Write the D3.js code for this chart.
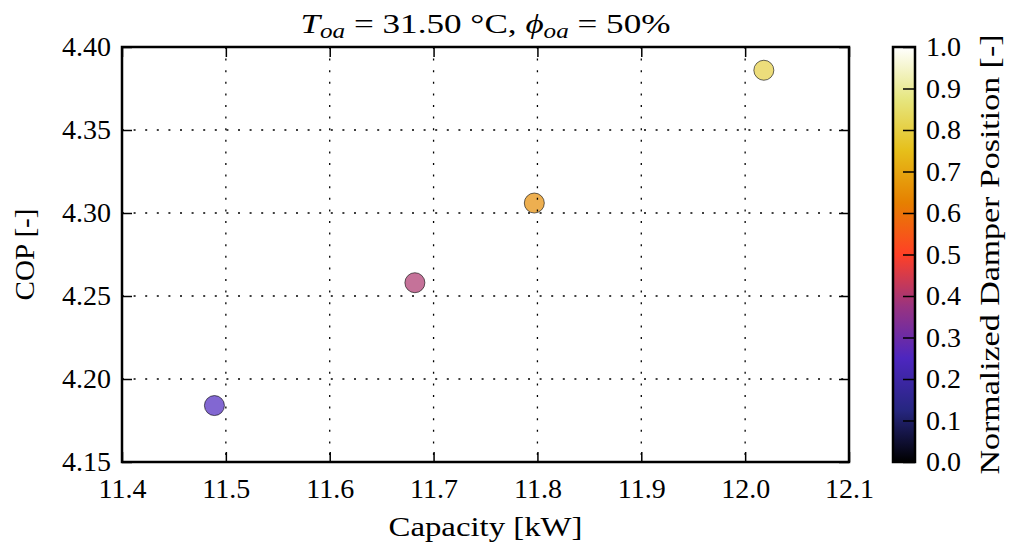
<!DOCTYPE html>
<html>
<head>
<meta charset="utf-8">
<script src="https://cdn.jsdelivr.net/npm/d3@7"></script>
<style>
  body { margin: 0; background: #fff; }
</style>
</head>
<body>
<script>
const width = 1014
const height = 550
const serif = "'Liberation Serif', 'DejaVu Serif', serif"

// data
const capacity = [11.489, 11.682, 11.797, 12.018]
const cop = [4.184, 4.258, 4.306, 4.386]
const damper = [0.25, 0.40, 0.65, 0.80]

const xTicks = [11.4, 11.5, 11.6, 11.7, 11.8, 11.9, 12.0, 12.1]
const yTicks = [4.15, 4.20, 4.25, 4.30, 4.35, 4.40]
const cTicks = [0.0, 0.1, 0.2, 0.3, 0.4, 0.5, 0.6, 0.7, 0.8, 0.9, 1.0]

// matplotlib CMRmap
const cmapStops = [0, 0.125, 0.25, 0.375, 0.5, 0.625, 0.75, 0.875, 1]
const cmapColors = [
  "rgb(0,0,0)", "rgb(38,38,128)", "rgb(77,38,191)", "rgb(153,51,128)",
  "rgb(255,64,38)", "rgb(230,128,0)", "rgb(230,191,26)", "rgb(230,230,128)", "rgb(255,255,255)"
]

const data = capacity.map((c, i) => ({capacity: c, cop: cop[i], damper: damper[i]}))

const x = d3.scaleLinear()
    .domain([11.4, 12.1])
    .range([122, 849]);
const y = d3.scaleLinear()
    .domain([4.15, 4.40])
    .range([462, 47]);
const color = d3.scaleLinear()
    .domain(cmapStops)
    .range(cmapColors)
    .interpolate(d3.interpolateRgb);

const cbX = 893, cbW = 22
const cy = d3.scaleLinear().domain([0, 1]).range([462, 47])

const svg = d3.select("body").append("svg")
    .attr("viewBox", [0, 0, width, height])
    .attr("width", width)
    .attr("height", height)
    .attr("font-family", serif);

// markers
svg.append("g")
  .selectAll("circle")
  .data(data)
  .join("circle")
    .attr("cx", d => x(d.capacity))
    .attr("cy", d => y(d.cop))
    .attr("r", 10)
    .attr("fill", d => color(d.damper))
    .attr("fill-opacity", 0.7)
    .attr("stroke", "#000")
    .attr("stroke-opacity", 0.6)
    .attr("stroke-width", 1);

// grid (on top, classic style)
const grid = svg.append("g")
    .attr("stroke", "#000")
    .attr("stroke-width", 1.3)
    .attr("stroke-dasharray", "2,9.6");
grid.selectAll(".gx")
  .data(xTicks.slice(1, -1))
  .join("line")
    .attr("x1", d => x(d)).attr("x2", d => x(d))
    .attr("y1", y(4.40)).attr("y2", y(4.15));
grid.selectAll(".gy")
  .data(yTicks.slice(1, -1))
  .join("line")
    .attr("y1", d => y(d)).attr("y2", d => y(d))
    .attr("x1", x(11.4)).attr("x2", x(12.1));

const fontSize = 28

const styleText = g => g.selectAll("text")
    .attr("font-size", fontSize)
    .attr("style", `font-family:${serif}`)

const xAxis = g => g
    .attr("transform", `translate(0,${y(4.15)})`)
    .call(d3.axisBottom(x).tickValues(xTicks).tickFormat(d3.format(".1f")).tickSize(-10).tickPadding(16))
    .call(g => g.select(".domain").remove())
    .call(g => g.selectAll(".tick line").attr("stroke-width", 1.5))
    .call(styleText);
const xAxisTop = g => g
    .attr("transform", `translate(0,${y(4.40)})`)
    .call(d3.axisTop(x).tickValues(xTicks).tickFormat("").tickSize(-10))
    .call(g => g.select(".domain").remove())
    .call(g => g.selectAll(".tick line").attr("stroke-width", 1.5));
const yAxis = g => g
    .attr("transform", `translate(${x(11.4)},0)`)
    .call(d3.axisLeft(y).tickValues(yTicks).tickFormat(d3.format(".2f")).tickSize(-10).tickPadding(11))
    .call(g => g.select(".domain").remove())
    .call(g => g.selectAll(".tick line").attr("stroke-width", 1.5))
    .call(styleText);
const yAxisRight = g => g
    .attr("transform", `translate(${x(12.1)},0)`)
    .call(d3.axisRight(y).tickValues(yTicks).tickFormat("").tickSize(-10))
    .call(g => g.select(".domain").remove())
    .call(g => g.selectAll(".tick line").attr("stroke-width", 1.5));

svg.append("g").call(xAxis);
svg.append("g").call(xAxisTop);
svg.append("g").call(yAxis);
svg.append("g").call(yAxisRight);

// frame
svg.append("rect")
    .attr("x", x(11.4)).attr("y", y(4.40))
    .attr("width", x(12.1) - x(11.4)).attr("height", y(4.15) - y(4.40))
    .attr("fill", "none").attr("stroke", "#000").attr("stroke-width", 2.5);

// axis labels
svg.append("text")
    .attr("x", (x(11.4) + x(12.1)) / 2).attr("y", 536)
    .attr("text-anchor", "middle").attr("font-size", fontSize)
    .attr("style", `font-family:${serif}`)
    .attr("textLength", 194).attr("lengthAdjust", "spacingAndGlyphs")
    .text("Capacity [kW]");
svg.append("text")
    .attr("transform", `translate(34,${(y(4.15) + y(4.40)) / 2}) rotate(-90)`)
    .attr("text-anchor", "middle").attr("font-size", fontSize)
    .attr("style", `font-family:${serif}`)
    .attr("textLength", 92).attr("lengthAdjust", "spacingAndGlyphs")
    .text("COP [-]");

// title
const title = svg.append("text")
    .attr("x", (x(11.4) + x(12.1)) / 2).attr("y", 33)
    .attr("text-anchor", "middle").attr("font-size", fontSize)
    .attr("style", `font-family:${serif}`)
    .attr("textLength", 370).attr("lengthAdjust", "spacingAndGlyphs");
title.append("tspan").attr("font-style", "italic").text("T");
title.append("tspan").attr("font-style", "italic").attr("font-size", 20).attr("dy", 5).text("oa");
title.append("tspan").attr("dy", -5).text(" = 31.50 °C, ");
title.append("tspan").attr("font-style", "italic").text("ϕ");
title.append("tspan").attr("font-style", "italic").attr("font-size", 20).attr("dy", 5).text("oa");
title.append("tspan").attr("dy", -5).text(" = 50%");

// colorbar
const defs = svg.append("defs");
const grad = defs.append("linearGradient")
    .attr("id", "cmap").attr("x1", 0).attr("y1", 1).attr("x2", 0).attr("y2", 0);
grad.selectAll("stop")
  .data(cmapStops)
  .join("stop")
    .attr("offset", d => d)
    .attr("stop-color", d => color(d));

svg.append("rect")
    .attr("x", cbX).attr("y", cy(1))
    .attr("width", cbW).attr("height", cy(0) - cy(1))
    .attr("fill", "url(#cmap)");

svg.append("g")
    .attr("transform", `translate(${cbX + cbW},0)`)
    .call(d3.axisRight(cy).tickValues(cTicks).tickFormat(d3.format(".1f")).tickSize(-12).tickPadding(11))
    .call(g => g.select(".domain").remove())
    .call(g => g.selectAll(".tick line").attr("stroke-width", 1.5))
    .call(styleText);

svg.append("rect")
    .attr("x", cbX).attr("y", cy(1))
    .attr("width", cbW).attr("height", cy(0) - cy(1))
    .attr("fill", "none").attr("stroke", "#000").attr("stroke-width", 2.5);

svg.append("text")
    .attr("transform", `translate(999,${(cy(0) + cy(1)) / 2}) rotate(-90)`)
    .attr("text-anchor", "middle").attr("font-size", fontSize)
    .attr("style", `font-family:${serif}`)
    .attr("textLength", 440).attr("lengthAdjust", "spacingAndGlyphs")
    .text("Normalized Damper Position [-]");
</script>
</body>
</html>
